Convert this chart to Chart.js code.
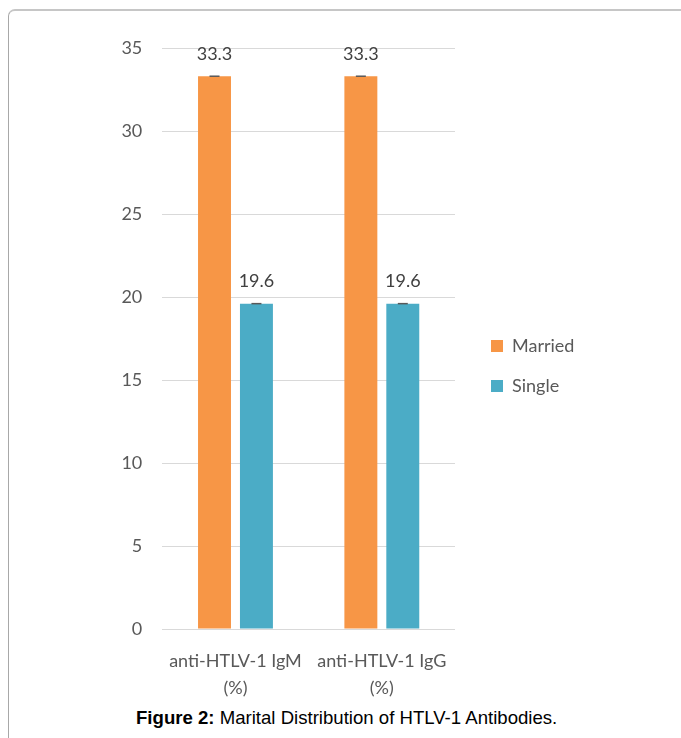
<!DOCTYPE html>
<html>
<head>
<meta charset="utf-8">
<script src="https://cdn.jsdelivr.net/npm/chart.js@4.4.1/dist/chart.umd.min.js"></script>
<style>
  html, body { margin: 0; padding: 0; background: #fff; }
  body { width: 681px; height: 738px; position: relative; overflow: hidden; }
  #frame { position: absolute; left: 8px; top: 9px; width: 720px; height: 760px;
           border-top: 2px solid #c6c6c6; border-left: 1px solid #a8a8a8; border-top-left-radius: 7px; }
  #wrap { position: absolute; left: 0; top: 0; width: 681px; height: 700px; }
  #caption { position: absolute; left: 136px; top: 707px; white-space: nowrap;
             font-family: "Liberation Sans", Arial, sans-serif; font-size: 18.6px; color: #000; }
</style>
</head>
<body>
<div id="frame"></div>
<div id="wrap"><canvas id="c"></canvas></div>
<div id="caption"><b>Figure 2:</b> Marital Distribution of HTLV-1 Antibodies.</div>
<script>
const categories = [["anti-HTLV-1 IgM", "(%)"], ["anti-HTLV-1 IgG", "(%)"]];
const seriesNames = ["Married", "Single"];
const marriedValues = [33.3, 33.3];
const singleValues = [19.6, 19.6];
const yTicks = [0, 5, 10, 15, 20, 25, 30, 35];

const FONT = "Lato, 'Open Sans', sans-serif";

const barDecor = {
  id: 'barDecor',
  afterDatasetsDraw(chart) {
    const ctx = chart.ctx;
    ctx.save();
    chart.data.datasets.forEach((ds, di) => {
      const meta = chart.getDatasetMeta(di);
      meta.data.forEach((el, i) => {
        ctx.strokeStyle = '#595959';
        ctx.lineWidth = 1.5;
        ctx.beginPath();
        ctx.moveTo(el.x - 5, el.y);
        ctx.lineTo(el.x + 5, el.y);
        ctx.stroke();
        ctx.fillStyle = '#404040';
        ctx.font = '18px ' + FONT;
        ctx.textAlign = 'center';
        ctx.textBaseline = 'middle';
        ctx.fillText(String(ds.data[i]), el.x, el.y - 22);
      });
    });
    ctx.restore();
  }
};

const chart = new Chart(document.getElementById('c'), {
  type: 'bar',
  data: {
    labels: categories,
    datasets: [
      { label: seriesNames[0], data: marriedValues, backgroundColor: '#F79646', borderWidth: 0 },
      { label: seriesNames[1], data: singleValues, backgroundColor: '#4BACC6', borderWidth: 0 }
    ]
  },
  options: {
    responsive: true,
    maintainAspectRatio: false,
    animation: false,
    events: [],
    categoryPercentage: 0.573,
    barPercentage: 0.786,
    layout: { padding: { left: 0, top: 34, right: 96.6, bottom: 2 } },
    plugins: {
      title: { display: true, text: ' ', padding: 0, font: { size: 12, lineHeight: '14px' } },
      tooltip: { enabled: false },
      legend: {
        position: 'right',
        align: 'center',
        maxWidth: 300,
        labels: {
          boxWidth: 12, boxHeight: 12, padding: 22,
          color: '#595959',
          font: { family: FONT, size: 18 }
        }
      }
    },
    scales: {
      x: {
        grid: { display: false, drawTicks: false },
        border: { display: false },
        ticks: { color: '#595959', padding: 19, autoSkip: false, font: { family: FONT, size: 18, lineHeight: '27px' }, maxRotation: 0 },
        afterFit: (s) => { s.height = 69; }
      },
      y: {
        min: 0, max: 35,
        afterBuildTicks: (s) => { s.ticks = yTicks.map(v => ({ value: v })); },
        grid: { color: '#d9d9d9', lineWidth: 1, drawTicks: false },
        border: { display: false },
        ticks: { color: '#595959', padding: 20, font: { family: FONT, size: 18 } },
        afterFit: (s) => { s.width = 162.3; }
      },
      yR: {
        type: 'linear', position: 'right', display: true,
        grid: { display: false }, border: { display: false },
        ticks: { display: false },
        afterFit: (s) => { s.width = 14; }
      }
    }
  },
  plugins: [barDecor]
});
</script>
</body>
</html>
